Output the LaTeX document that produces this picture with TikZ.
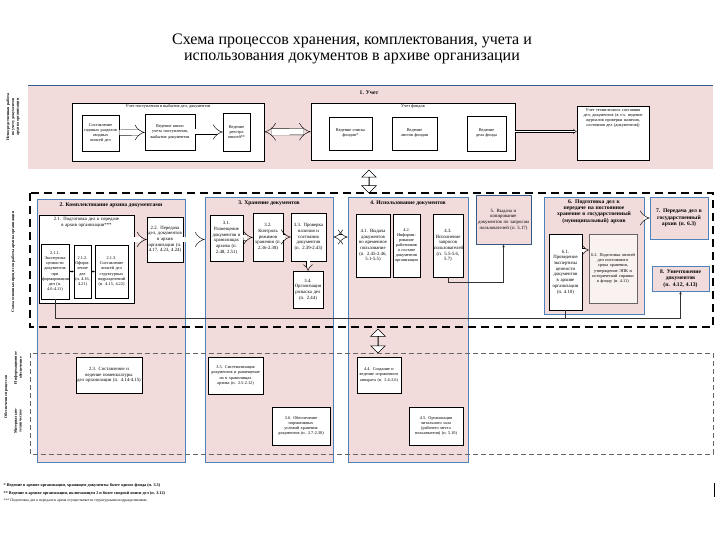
\documentclass[tikz,border=0pt]{standalone}
\usepackage{fontspec}
\setmainfont{Liberation Serif}
\usetikzlibrary{arrows.meta,shapes.arrows,calc}
\definecolor{pk}{RGB}{242,220,219}
\definecolor{bl}{RGB}{79,129,189}
\definecolor{dbl}{RGB}{54,96,146}
\newcommand\fsa{\fontsize{4.3}{5.1}\selectfont}
\newcommand\fsb{\fontsize{4.8}{5.7}\selectfont}
\newcommand\fsh{\fontsize{5.6}{6.4}\selectfont\bfseries}
\newcommand\bx[7][]{%
 \pgfmathsetmacro\bxw{#5-#3}\pgfmathsetmacro\bxh{#6-#4}\pgfmathsetmacro\bxt{#5-#3-2}%
 \node[wbox,minimum width=\bxw pt,minimum height=\bxh pt,text width=\bxt pt,#1] (#2) at ({(#3+#5)/2},{(#4+#6)/2}) {#7};}
\tikzset{
 wbox/.style={draw=black,fill=white,line width=0.5pt,inner sep=1pt,align=center,font=\fsb},
 pbox/.style={draw=bl,fill=pk,line width=0.6pt},
 grp/.style={draw=black,line width=0.8pt},
 harrow/.style={draw=black,line width=0.45pt,double=white,double distance=5pt,-{Implies}},
 sarrow/.style={draw=black,line width=0.3pt,double=white,double distance=2.4pt,-{Implies}},
 conn/.style={draw=black!80,line width=0.5pt},
 lbl/.style={inner sep=0.5pt,align=center},
 bigarrow/.style={double arrow,draw=black,fill=white,line width=0.5pt,inner sep=0pt,rotate=90,minimum width=14pt,double arrow head extend=7pt,minimum height=23pt},
}
\begin{document}
\begin{tikzpicture}[x=1pt,y=-1pt]
\useasboundingbox (0,0) rectangle (720,540);
\fill[white] (0,0) rectangle (720,540);
% title
\node[lbl,font=\fontsize{16}{16.5}\selectfont] (title) at (352,49) {Схема процессов хранения, комплектования, учета и\\использования документов в архиве организации};
% ===== band 1
\bx[fill=pk,draw=none]{band1}{28}{86}{713}{169}{}
\draw[dbl,line width=0.8pt] (band1.north west) -- (band1.north east);
\node[lbl,font=\fsh] (band1t) at (369,93) {1. Учет};
\node[lbl,rotate=90,font=\fontsize{4}{4.8}\selectfont\bfseries] (lab1) at (13,117) {Непосредственная работа\\по учету документов\\архива организации};
\bx[grp]{g1}{72}{103}{264}{161}{}
\node[lbl,font=\fsa,below=1pt] (g1t) at (g1.north) {Учет поступления и выбытия дел, документов};
\bx[font=\fsa,line width=0.7pt]{ba}{82}{115}{119}{151}{Составление годовых разделов сводных описей дел}
\bx[font=\fsa]{bb}{145}{114}{195}{150}{Ведение книги учета поступления, выбытия документов}
\bx[font=\fsa]{bc}{223}{113}{250}{151}{Ведение реестра описей**}
\draw[harrow] (ba) -- (bb);
\draw[harrow] (bb) -- (bc);
\bx[grp]{g2}{311}{103}{515}{160}{}
\node[lbl,font=\fsa,below=1pt] (g2t) at (g2.north) {Учет фондов};
\bx[font=\fsa]{bd}{329}{117}{372}{150}{Ведение списка фондов*}
\bx[font=\fsa]{be}{392}{117}{437}{150}{Ведение листов фондов}
\bx[font=\fsa]{bf}{467}{116}{506}{151}{Ведение дела фонда}
\draw[harrow,{Implies}-{Implies},double distance=6pt] (g1) -- (g2);
\bx[line width=0.6pt]{rb}{577}{106}{649}{160}{}
\node[lbl,font=\fsa,text width=70pt,below=2pt] (rbt) at (rb.north) {Учет технического состояния дел, документов (в т.ч. ведение журналов проверки наличия, состояния дел (документов))};
\draw[sarrow,double distance=1.6pt] (g2.east) -- (rb.west |- g2.east);
% vertical arrow 1
\node[bigarrow] (va1) at (369,181.5) {};
% ===== columns
\bx[pbox]{col2}{37}{199}{185}{462}{}
\bx[pbox]{col3}{205}{197}{333}{462}{}
\bx[pbox]{col4}{348}{197}{468}{462}{}
\node[lbl,font=\fsh] (col2t) at (111,205.5) {2. Комплектование архива документами};
\node[lbl,font=\fsh] (col3t) at (269,203.5) {3. Хранение документов};
\node[lbl,font=\fsh] (col4t) at (408,203.5) {4. Использование документов};
\node[lbl,rotate=90,font=\fontsize{4}{4.8}\selectfont\bfseries] (lab2) at (13,262) {Схема основных процессов работы архива организации};
% col 2
\bx[line width=0.6pt]{g21}{39}{215}{134}{303}{}
\node[lbl,font=\fsb,text width=90pt,below=2pt] (g21t) at (g21.north) {2.1. Подготовка дел к передаче в архив организации***};
\bx[line width=0.9pt,font=\fsa]{b211}{41}{244}{69}{299}{2.1.1. Экспертиза ценности документов при формировании дел (п. 4.6-4.11)}
\bx[font=\fsa]{b212}{74}{245}{91}{298}{2.1.2. Оформ-\\ление дел (п.~4.16, 4.21)}
\bx[font=\fsa]{b213}{95}{245}{128}{298}{2.1.3. Составление описей дел структурных подразделений (п. 4.15, 4.22)}
\draw[-{Stealth[length=2pt,width=2pt]},line width=0.3pt] (b211) -- (b212);
\draw[-{Stealth[length=2pt,width=2pt]},line width=0.3pt] (b212) -- (b213);
\bx{b22}{147}{217}{183}{262}{2.2. Передача дел, документов в архив организации (п. 4.17, 4.23, 4.24)}
\draw[harrow] (g21.east |- b22) -- (b22);
\draw[harrow] (b22.east) -- (col3.west |- b22.east);
% col 3
\bx{b31}{210}{215}{243}{261}{3.1. Размещение документов в хранилищах архива (п. 2.48, 2.51)}
\bx{b32}{253}{213}{283}{261}{3.2. Контроль режимов хранения (п. 2.36-2.38)}
\bx{b33}{291}{213}{326}{261}{3.3. Проверка наличия и состояния документов (п. 2.39-2.43)}
\bx{b34}{293}{271}{323}{308}{3.4. Организация розыска дел (п. 2.44)}
\draw[harrow] (b31) -- (b32);
\draw[harrow] (b32) -- (b33);
\draw[harrow,double distance=3pt] (b33.south -| b34.north) -- (b34.north);
\draw[harrow,{Implies}-{Implies}] (col3.east |- b32) -- (col4.west |- b32);
% col 4
\bx{b41}{356}{214}{390}{277}{4.1. Выдача документов во временное пользование (п. 2.45-2.46, 5.1-5.5)}
\bx[font=\fsa]{b42}{393}{214}{420}{277}{4.2. Информи-\\рование работников о составе документов организации}
\bx{b43}{433}{214}{463}{277}{4.3. Исполнение запросов пользователей (п. 5.5-5.6, 5.7)}
\bx[pbox,draw=bl!70!black,font=\fsb]{b5}{476}{195}{531}{244}{5. Выдача и копирование документов по запросам пользователей (п.~5.17)}
\draw[conn,-{Stealth[length=3pt,width=2.5pt]}] (b43.south) -- ++(0,5) -| (b5.south);
% section 6
\bx[pbox]{sec6}{544}{197}{644}{314}{}
\node[lbl,font=\fsh,text width=98pt,below=2pt] (sec6t) at (sec6.north) {6. Подготовка дел к передаче на постоянное хранение в государственный (муниципальный) архив};
\bx[line width=0.9pt]{b61}{549}{234}{582}{310}{6.1. Проведение экспертизы ценности документов в архиве организации (п.~4.10)}
\bx[draw=black!60,fill=pk!40,font=\fsa]{b62}{589}{234}{637}{303}{6.2. Подготовка описей дел постоянного срока хранения, утверждение ЭПК и исторической справки к фонду (п.~4.11)}
\draw[harrow,double distance=3pt] (b61.east |- 0,250) -- (b62.west |- 0,250);
\bx[pbox,font=\fsh]{b7}{650}{197}{708}{239}{7. Передача дел в государственный архив (п.~6.3)}
\bx[pbox,font=\fsh]{b8}{652}{266}{709}{291}{8. Уничтожение документов (п. 4.12, 4.13)}
\draw[harrow] (sec6.east |- b7) -- (b7.west);
% long connector
\coordinate (cl) at (56,318);
\draw[conn,-{Stealth[length=3pt,width=2.5pt]}] (b211.south) -- (b211.south |- cl) -| (b8.south);
\draw[conn] (b61.south) -- (b61.south |- cl);
% middle dashed
\draw[line width=1.3pt,dash pattern=on 8pt off 5pt] (30,193) rectangle (713,327);
% vertical arrow 2
\node[bigarrow,minimum height=24pt] (va2) at (378,341) {};
% bottom dashed
\draw[black!60,line width=0.6pt,dash pattern=on 5pt off 3pt] (30,353) rectangle (713,454);
\node[lbl,rotate=90,font=\fontsize{4}{4.8}\selectfont\bfseries] (lab3) at (6,397) {Обеспечение процессов};
\node[lbl,rotate=90,font=\fontsize{4}{4.8}\selectfont\bfseries] (lab4) at (18,368) {Информационное\\обеспечение};
\node[lbl,rotate=90,font=\fontsize{4}{4.8}\selectfont\bfseries] (lab5) at (18,421) {Материально-\\техническое};
\bx[line width=0.8pt]{b23}{76}{357}{142}{393}{2.3. Составление и ведение номенклатуры дел организации (п. 4.14-4.15)}
\bx[line width=0.8pt,font=\fsa]{b35}{208}{357}{263}{394}{3.5. Систематизация документов и размещение их в хранилищах архива (п. 2.5-2.12)}
\bx[line width=0.8pt,font=\fsa]{b36}{272}{407}{330}{445}{3.6. Обеспечение нормативных условий хранения документов (п. 2.7-2.30)}
\bx[line width=0.8pt,font=\fsa]{b44}{357}{357}{401}{393}{4.4. Создание и ведение справочного аппарата (п. 2.4-2.6)}
\bx[line width=0.8pt,font=\fsa]{b45}{409}{407}{463}{445}{4.5. Организация читального зала (рабочего места пользователя) (п.~5.10)}
% footnotes
\node[lbl,anchor=west,font=\fontsize{4.2}{5}\selectfont\bfseries] (fn1) at (3,485) {* Ведение в архиве организации, хранящем документы более одного фонда (п. 3.3)};
\node[lbl,anchor=west,font=\fontsize{4.2}{5}\selectfont\bfseries] (fn2) at (3,493) {** Ведение в архиве организации, включающем 2 и более сводной описи дел (п. 3.12)};
\node[lbl,anchor=west,font=\fontsize{3.8}{4.6}\selectfont] (fn3) at (3,501) {*** Подготовка дел к передаче в архив осуществляется структурными подразделениями};
\draw[line width=0.8pt] (714,483) -- (714,497);
\end{tikzpicture}
\end{document}
